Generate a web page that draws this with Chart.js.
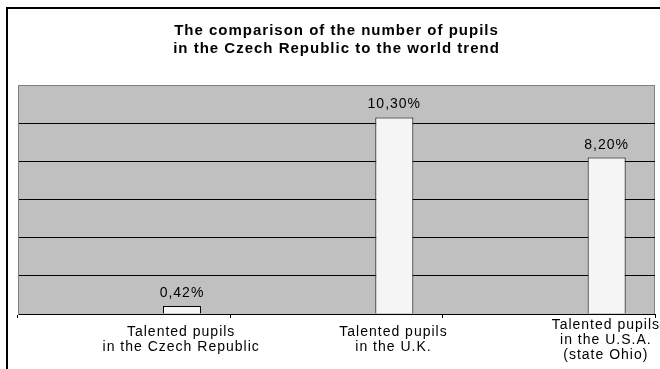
<!DOCTYPE html>
<html>
<head>
<meta charset="utf-8">
<title>Talented pupils</title>
<script src="https://cdn.jsdelivr.net/npm/chart.js@4.4.1/dist/chart.umd.min.js"></script>
<style>
    html, body { margin: 0; padding: 0; background: #fff; }
    #wrap { position: relative; width: 660px; height: 369px; }
</style>
</head>
<body>
<div id="wrap"><canvas id="chart" width="660" height="369"></canvas></div>
<script>
// Share of talented pupils per country (percent)
const categories = [
    ['Talented pupils', 'in the Czech Republic'],
    ['Talented pupils', 'in the U.K.'],
    ['Talented pupils', 'in the U.S.A.', '(state Ohio)']
];
const shares = [0.42, 10.30, 8.20];
const axisMax = 12;
const axisStep = 2;

const FONT = '"Liberation Sans", Arial, sans-serif';

// gray plot background, frame around the plot and the outer page border
const plotFrame = {
    id: 'plotFrame',
    beforeDraw(chart) {
        const { ctx, chartArea: a } = chart;
        // slightly wider lettering for every text on the chart
        ctx.letterSpacing = '1px';
        ctx.save();
        ctx.fillStyle = '#c0c0c0';
        ctx.fillRect(a.left, a.top, a.right - a.left, a.bottom - a.top);
        ctx.strokeStyle = '#808080';
        ctx.lineWidth = 1;
        ctx.strokeRect(a.left + 0.5, a.top + 0.5, a.right - a.left - 1, a.bottom - a.top);
        // outer border (only left and top edges fall inside the page)
        ctx.fillStyle = '#000';
        ctx.fillRect(6, 7, 2, chart.height);
        ctx.fillRect(6, 7, chart.width, 2);
        ctx.restore();
    }
};

// value labels above each bar, Czech style decimal comma
const valueLabels = {
    id: 'valueLabels',
    afterDatasetsDraw(chart) {
        const { ctx } = chart;
        const meta = chart.getDatasetMeta(2);
        ctx.save();
        ctx.font = '14px ' + FONT;
        ctx.fillStyle = '#000';
        ctx.textAlign = 'center';
        ctx.textBaseline = 'alphabetic';
        meta.data.forEach((bar, i) => {
            const txt = shares[i].toFixed(2).replace('.', ',') + '%';
            ctx.fillText(txt, bar.x, bar.y - 9);
        });
        ctx.restore();
    }
};

new Chart(document.getElementById('chart'), {
    type: 'bar',
    data: {
        labels: categories,
        datasets: [
            // two empty series keep the bars in the right-hand slot of each category
            { label: '', data: [] },
            { label: '', data: [] },
            {
                label: 'Talented pupils',
                data: shares,
                backgroundColor: '#f5f5f5',
                borderColor: '#000',
                borderWidth: 1
            }
        ]
    },
    options: {
        responsive: false,
        animation: false,
        layout: { padding: { left: 18, right: 5, top: 0, bottom: -8 } },
        datasets: {
            bar: { categoryPercentage: 0.817, barPercentage: 0.657 }
        },
        plugins: {
            legend: { display: false },
            tooltip: { enabled: false },
            title: {
                display: true,
                text: ['The comparison of the number of pupils', 'in the Czech Republic to the world trend'],
                color: '#000',
                font: { family: FONT, size: 15, weight: 'bold', lineHeight: 18 / 15 },
                padding: { top: 22, bottom: 27 }
            }
        },
        scales: {
            x: {
                border: { display: true, color: '#000', width: 1 },
                grid: { drawOnChartArea: false, drawTicks: true, tickLength: 4, color: '#000' },
                ticks: {
                    color: '#000',
                    font: { family: FONT, size: 14, lineHeight: 15 / 14 },
                    padding: 7,
                    labelOffset: 57,
                    crossAlign: 'center',
                    maxRotation: 0,
                    autoSkip: false
                }
            },
            y: {
                min: 0,
                max: axisMax,
                border: { display: true, color: '#808080' },
                grid: {
                    drawTicks: false,
                    color: ctx => (ctx.tick && ctx.tick.value === axisMax) ? '#808080' : '#000'
                },
                ticks: { display: false, stepSize: axisStep }
            }
        }
    },
    plugins: [plotFrame, valueLabels]
});
</script>
</body>
</html>
